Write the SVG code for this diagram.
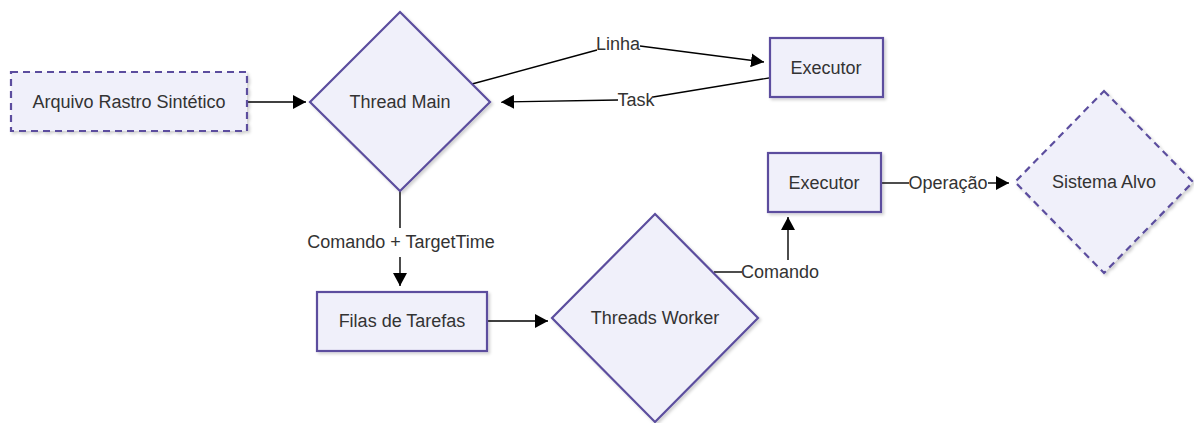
<svg xmlns="http://www.w3.org/2000/svg" width="1194" height="423" viewBox="0 0 1194 423">
  <defs>
    <marker id="arrow" viewBox="0 0 13 14" refX="13" refY="7" markerWidth="13" markerHeight="14" markerUnits="userSpaceOnUse" orient="auto">
      <path d="M0,0 L13,7 L0,14 z" fill="#000"/>
    </marker>
    <filter id="shadow" x="-10%" y="-10%" width="130%" height="130%">
      <feDropShadow dx="2" dy="2" stdDeviation="1.5" flood-color="#000" flood-opacity="0.18"/>
    </filter>
  </defs>
  <style>
    .node { fill: #f0f0fa; stroke: #5b4e9e; stroke-width: 2.2; filter: url(#shadow); }
    .dashed { stroke-dasharray: 7 5; }
    .lbl { font-family: "Liberation Sans", Arial, sans-serif; font-size: 18px; fill: #333; text-anchor: middle; dominant-baseline: central; }
    .edge { fill: none; stroke: #000; stroke-width: 1.4; }
  </style>
  <rect width="1194" height="423" fill="#fff"/>

  <g id="edges">
    <!-- Arquivo -> Thread Main -->
    <path class="edge" d="M247,102 L306,102" marker-end="url(#arrow)"/>
    <!-- Thread Main -> Executor (Linha) -->
    <path class="edge" d="M472,84 L597,50"/>
    <path class="edge" d="M640,46 L764,62" marker-end="url(#arrow)"/>
    <text class="lbl" x="618" y="44">Linha</text>
    <!-- Executor -> Thread Main (Task) -->
    <path class="edge" d="M775,77 L653,97"/>
    <path class="edge" d="M618,100 L501,102" marker-end="url(#arrow)"/>
    <text class="lbl" x="636" y="100">Task</text>
    <!-- Thread Main -> Filas -->
    <path class="edge" d="M400,191 L400,228"/>
    <path class="edge" d="M400,257 L400,286" marker-end="url(#arrow)"/>
    <text class="lbl" x="401" y="242">Comando + TargetTime</text>
    <!-- Filas -> Threads Worker -->
    <path class="edge" d="M487,321 L548,321" marker-end="url(#arrow)"/>
    <!-- Threads Worker -> Executor (Comando) -->
    <path class="edge" d="M714,272 L742,272"/>
    <path class="edge" d="M788,260 L788,217" marker-end="url(#arrow)"/>
    <text class="lbl" x="780" y="272">Comando</text>
    <!-- Executor -> Sistema Alvo -->
    <path class="edge" d="M881,183 L909,183"/>
    <path class="edge" d="M988,183 L1009,183" marker-end="url(#arrow)"/>
    <text class="lbl" x="948" y="183">Operação</text>
  </g>

  <g id="arquivo">
    <rect class="node dashed" x="11" y="72" width="236" height="59"/>
    <text class="lbl" x="129" y="102">Arquivo Rastro Sintético</text>
  </g>

  <g id="thread-main">
    <polygon class="node" points="400,12 490,102 400,191 310,102"/>
    <text class="lbl" x="400" y="102">Thread Main</text>
  </g>

  <g id="executor-1">
    <rect class="node" x="770" y="38" width="113" height="59"/>
    <text class="lbl" x="826" y="68">Executor</text>
  </g>

  <g id="filas">
    <rect class="node" x="317" y="292" width="170" height="59"/>
    <text class="lbl" x="402" y="321">Filas de Tarefas</text>
  </g>

  <g id="threads-worker">
    <polygon class="node" points="655,214 758,318 655,422 552,318"/>
    <text class="lbl" x="655" y="318">Threads Worker</text>
  </g>

  <g id="executor-2">
    <rect class="node" x="768" y="153" width="113" height="59"/>
    <text class="lbl" x="824" y="183">Executor</text>
  </g>

  <g id="sistema-alvo">
    <polygon class="node dashed" points="1104,91 1193,182 1104,273 1015,182"/>
    <text class="lbl" x="1104" y="182">Sistema Alvo</text>
  </g>
</svg>
